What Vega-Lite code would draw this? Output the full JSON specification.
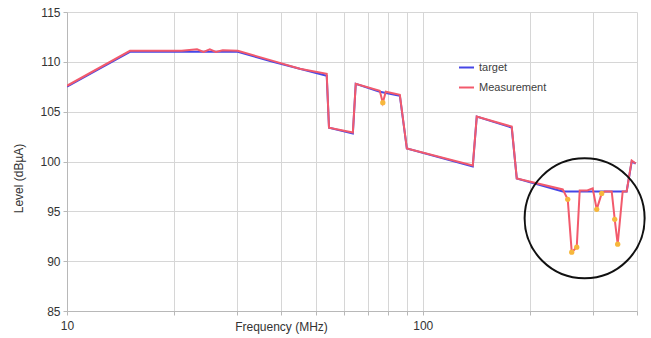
{
  "$schema": "https://vega.github.io/schema/vega-lite/v6.json",
  "width": 570,
  "height": 299,
  "autosize": "none",
  "padding": {"left": 67, "top": 12, "right": 14, "bottom": 27},
  "background": "white",
  "config": {
    "view": {"stroke": null},
    "font": "Liberation Sans",
    "axis": {
      "labelFont": "Liberation Sans",
      "titleFont": "Liberation Sans",
      "labelFontSize": 12,
      "titleFontSize": 12,
      "titleFontWeight": "normal",
      "labelColor": "#333333",
      "titleColor": "#333333",
      "gridColor": "#d6d6d6",
      "domainColor": "#b8b8b8",
      "tickColor": "#b8b8b8",
      "tickSize": 4
    }
  },
  "datasets": {
    "lines": [
      {"series": "target", "freq": 10, "level": 107.5},
      {"series": "target", "freq": 15.03, "level": 111.0},
      {"series": "target", "freq": 30.2, "level": 111.0},
      {"series": "target", "freq": 37.9, "level": 110.0},
      {"series": "target", "freq": 53.7, "level": 108.6},
      {"series": "target", "freq": 54.5, "level": 103.4},
      {"series": "target", "freq": 63.6, "level": 102.8},
      {"series": "target", "freq": 64.8, "level": 107.8},
      {"series": "target", "freq": 75.7, "level": 107.0},
      {"series": "target", "freq": 86.2, "level": 106.6},
      {"series": "target", "freq": 90.2, "level": 101.3},
      {"series": "target", "freq": 138.2, "level": 99.5},
      {"series": "target", "freq": 141.8, "level": 104.5},
      {"series": "target", "freq": 177.8, "level": 103.4},
      {"series": "target", "freq": 183.7, "level": 98.3},
      {"series": "target", "freq": 247.4, "level": 97.0},
      {"series": "target", "freq": 374.1, "level": 97.0},
      {"series": "target", "freq": 386.5, "level": 100.0},
      {"series": "target", "freq": 396.6, "level": 99.8},
      {"series": "Measurement", "freq": 10, "level": 107.6},
      {"series": "Measurement", "freq": 15.03, "level": 111.1},
      {"series": "Measurement", "freq": 21.0, "level": 111.1},
      {"series": "Measurement", "freq": 23.2, "level": 111.25},
      {"series": "Measurement", "freq": 24.2, "level": 111.0},
      {"series": "Measurement", "freq": 25.2, "level": 111.25},
      {"series": "Measurement", "freq": 26.2, "level": 111.0},
      {"series": "Measurement", "freq": 27.4, "level": 111.15},
      {"series": "Measurement", "freq": 30.2, "level": 111.1},
      {"series": "Measurement", "freq": 37.9, "level": 110.1},
      {"series": "Measurement", "freq": 45.1, "level": 109.3},
      {"series": "Measurement", "freq": 53.7, "level": 108.8},
      {"series": "Measurement", "freq": 54.5, "level": 103.4},
      {"series": "Measurement", "freq": 63.6, "level": 102.9},
      {"series": "Measurement", "freq": 64.8, "level": 107.8},
      {"series": "Measurement", "freq": 75.7, "level": 107.1},
      {"series": "Measurement", "freq": 77.2, "level": 105.9},
      {"series": "Measurement", "freq": 78.7, "level": 107.0},
      {"series": "Measurement", "freq": 86.2, "level": 106.7},
      {"series": "Measurement", "freq": 90.2, "level": 101.3},
      {"series": "Measurement", "freq": 138.2, "level": 99.6},
      {"series": "Measurement", "freq": 141.8, "level": 104.5},
      {"series": "Measurement", "freq": 177.8, "level": 103.5},
      {"series": "Measurement", "freq": 183.7, "level": 98.3},
      {"series": "Measurement", "freq": 247.4, "level": 97.2},
      {"series": "Measurement", "freq": 255.5, "level": 96.2},
      {"series": "Measurement", "freq": 262.2, "level": 90.9},
      {"series": "Measurement", "freq": 270.8, "level": 91.4},
      {"series": "Measurement", "freq": 276.1, "level": 97.1},
      {"series": "Measurement", "freq": 290.0, "level": 97.1},
      {"series": "Measurement", "freq": 300.3, "level": 97.3},
      {"series": "Measurement", "freq": 308.2, "level": 95.2},
      {"series": "Measurement", "freq": 318.3, "level": 96.8},
      {"series": "Measurement", "freq": 324.5, "level": 97.0},
      {"series": "Measurement", "freq": 339.6, "level": 97.0},
      {"series": "Measurement", "freq": 346.3, "level": 94.2},
      {"series": "Measurement", "freq": 353.0, "level": 91.7},
      {"series": "Measurement", "freq": 364.6, "level": 97.0},
      {"series": "Measurement", "freq": 374.1, "level": 97.0},
      {"series": "Measurement", "freq": 386.5, "level": 100.1},
      {"series": "Measurement", "freq": 396.6, "level": 99.8}
    ],
    "dips": [
      {"freq": 77.2, "level": 105.9},
      {"freq": 255.5, "level": 96.2},
      {"freq": 262.2, "level": 90.9},
      {"freq": 270.8, "level": 91.4},
      {"freq": 308.2, "level": 95.2},
      {"freq": 318.3, "level": 96.8},
      {"freq": 346.3, "level": 94.2},
      {"freq": 353.0, "level": 91.7}
    ],
    "circle": [
      {"freq": 285, "level": 94.3}
    ]
  },
  "encoding": {
    "x": {
      "field": "freq",
      "type": "quantitative",
      "scale": {"type": "log", "domain": [10, 400], "nice": false},
      "axis": {
        "title": "Frequency (MHz)",
        "values": [10, 20, 30, 40, 50, 60, 70, 80, 90, 100, 200, 300, 400],
        "labelExpr": "datum.value == 10 || datum.value == 100 ? datum.value : ''",
        "labelFlush": false,
        "labelPadding": 5,
        "titleX": 214,
        "titleY": 15,
        "titleBaseline": "middle",
        "titleAlign": "center",
        "grid": true
      }
    },
    "y": {
      "field": "level",
      "type": "quantitative",
      "scale": {"domain": [85, 115], "nice": false, "zero": false},
      "axis": {
        "title": "Level (dBµA)",
        "values": [85, 90, 95, 100, 105, 110, 115],
        "labelPadding": 3,
        "titleX": -49,
        "titleY": 166,
        "titleBaseline": "middle",
        "titleAlign": "center",
        "grid": true
      }
    }
  },
  "layer": [
    {
      "data": {"name": "lines"},
      "transform": [{"filter": "datum.series == 'target'"}],
      "mark": {"type": "line", "strokeWidth": 2, "clip": true},
      "encoding": {
        "color": {
          "field": "series",
          "type": "nominal",
          "scale": {"domain": ["target", "Measurement"], "range": ["#4646e6", "#f25a6c"]},
          "legend": {
            "title": null,
            "orient": "none",
            "legendX": 391,
            "legendY": 47,
            "symbolType": "stroke",
            "symbolSize": 225,
            "symbolStrokeWidth": 2,
            "labelFontSize": 11,
            "labelFont": "Liberation Sans",
            "labelColor": "#404040",
            "labelOffset": 4,
            "rowPadding": 6,
            "padding": 0
          }
        }
      }
    },
    {
      "data": {"name": "lines"},
      "transform": [{"filter": "datum.series == 'Measurement'"}],
      "mark": {"type": "line", "strokeWidth": 2, "clip": true},
      "encoding": {
        "color": {"field": "series", "type": "nominal"}
      }
    },
    {
      "data": {"name": "dips"},
      "mark": {"type": "point", "filled": true, "shape": "circle", "size": 28, "color": "#f7b73c", "opacity": 1}
    },
    {
      "data": {"name": "circle"},
      "mark": {"type": "point", "filled": false, "shape": "circle", "size": 14400, "stroke": "#111111", "strokeWidth": 2, "opacity": 1}
    }
  ]
}
